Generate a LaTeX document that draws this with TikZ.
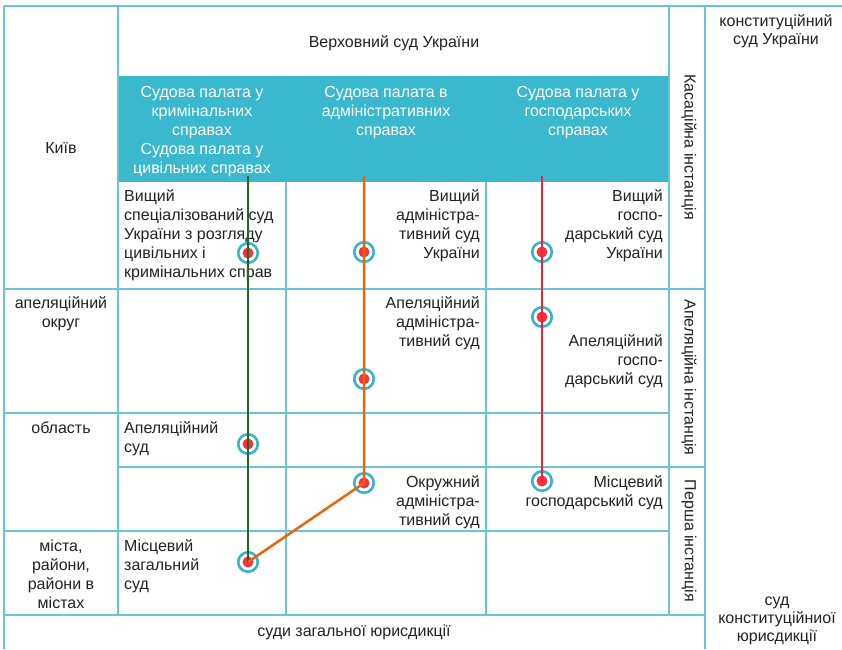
\documentclass[tikz,border=0pt]{standalone}
\usepackage{fontspec}
\setmainfont{Liberation Sans}
\definecolor{gridc}{HTML}{66C6D6}
\definecolor{tealf}{HTML}{3AB8CE}
\definecolor{ringc}{HTML}{35B5CB}
\definecolor{dotc}{HTML}{F5333F}
\definecolor{txtc}{HTML}{222222}
\definecolor{greenl}{HTML}{1D6A1D}
\definecolor{orangel}{HTML}{E8650F}
\definecolor{redl}{HTML}{F0213D}
\newcommand\hstr{\rule{0pt}{15pt}}
\begin{document}
\begin{tikzpicture}[x=1pt,y=-1pt,
  gridline/.style={draw=gridc,line width=1.8pt},
  txt/.style={font=\fontsize{16}{19}\selectfont,text=txtc,inner sep=0pt},
  wtxt/.style={txt,text=white,align=center,anchor=north},
  ltxt/.style={txt,align=left,anchor=north west},
  rtxt/.style={txt,align=right,anchor=north east},
  ctxt/.style={txt,align=center,anchor=north},
  rot/.style={txt,rotate=-90},
  marker/.style={circle,draw=ringc,line width=2.6pt,minimum size=19.5pt,inner sep=0pt,
    path picture={\fill[dotc] (path picture bounding box.center) circle (5.5pt);}},
  conn/.style={line width=2.5pt}]
\useasboundingbox (0,0) rectangle (842,649);
\fill[white] (0,0) rectangle (842,649);
\fill[tealf] (118,76) rectangle (669,182);
% grid
\draw[gridline] (4,6) -- (842,6);
\draw[gridline] (4,6) -- (4,649);
\draw[gridline] (118,6) -- (118,615);
\draw[gridline] (669,6) -- (669,615);
\draw[gridline] (705,6) -- (705,649);
\draw[gridline] (286,182) -- (286,615);
\draw[gridline] (486,182) -- (486,615);
\draw[gridline] (4,289) -- (705,289);
\draw[gridline] (4,413) -- (669,413);
\draw[gridline] (118,467) -- (705,467);
\draw[gridline] (4,531) -- (669,531);
\draw[gridline] (4,615) -- (705,615);
% header texts
\node[txt,anchor=base] (vsu) at (394,47) {Верховний суд України};
\node[wtxt] (p1) at (202,82) {\hstr Судова палата у\\кримінальних\\справах\\Судова палата у\\цивільних справах};
\node[wtxt] (p2) at (386,82) {\hstr Судова палата в\\адміністративних\\справах};
\node[wtxt] (p3) at (578,82) {\hstr Судова палата у\\господарських\\справах};
% left column
\node[txt,anchor=base] (kyiv) at (61,153) {Київ};
\node[ctxt] (okr) at (61,293) {\hstr апеляційний\\округ};
\node[txt,anchor=base] (obl) at (61,433) {область};
\node[ctxt] (mista) at (61,536.7) {\hstr міста,\\райони,\\райони в\\містах};
% cells
\node[ltxt] (vss) at (124,186.7) {\hstr Вищий\\спеціалізований суд\\України з розгляду\\цивільних і\\кримінальних справ};
\node[rtxt] (vas) at (480,186.7) {\hstr Вищий\\адміністра-\\тивний суд\\України};
\node[rtxt] (vgs) at (663,186.7) {\hstr Вищий\\госпо-\\дарський суд\\України};
\node[rtxt] (aas) at (480,293) {\hstr Апеляційний\\адміністра-\\тивний суд};
\node[rtxt] (ags) at (663,331.7) {\hstr Апеляційний\\госпо-\\дарський суд};
\node[ltxt] (as) at (124,418) {\hstr Апеляційний\\суд};
\node[rtxt] (oas) at (480,472.3) {\hstr Окружний\\адміністра-\\тивний суд};
\node[rtxt] (mgs) at (663,472.3) {\hstr Місцевий\\господарський суд};
\node[ltxt] (mzs) at (124,536.7) {\hstr Місцевий\\загальний\\суд};
\node[txt,anchor=base] (szu) at (354,636) {суди загальної юрисдикції};
% right side
\node[txt,align=center,anchor=north,font=\fontsize{16}{18.5}\selectfont] (ksu) at (776,11) {\hstr конституційний\\суд України};
\node[txt,align=center,anchor=north,font=\fontsize{16}{18.2}\selectfont] (skj) at (777,590) {\hstr суд\\конституційниої\\юрисдикції};
\node[rot] (kas) at (689,147) {Касаційна інстанція};
\node[rot] (apel) at (689,377.5) {Апеляційна інстанція};
\node[rot] (persha) at (689,541) {Перша інстанція};
% markers
\node[marker] (g1) at (248,253) {};
\node[marker] (g2) at (248,444) {};
\node[marker] (g3) at (248,562) {};
\node[marker] (o1) at (364,252) {};
\node[marker] (o2) at (364,379) {};
\node[marker] (o3) at (364,483) {};
\node[marker] (r1) at (542,252) {};
\node[marker] (r2) at (542,317) {};
\node[marker] (r3) at (542,481) {};
\coordinate (gtop) at (248,176);
\coordinate (otop) at (364,176);
\coordinate (rtop) at (542,176);
% connectors
\draw[conn,greenl] (gtop) -- (g1.center) -- (g2.center) -- (g3.center);
\draw[conn,orangel] (otop) -- (o1.center) -- (o2.center) -- (o3.center) -- (g3.center);
\draw[conn,redl] (rtop) -- (r1.center) -- (r2.center) -- (r3.center);
\end{tikzpicture}
\end{document}
